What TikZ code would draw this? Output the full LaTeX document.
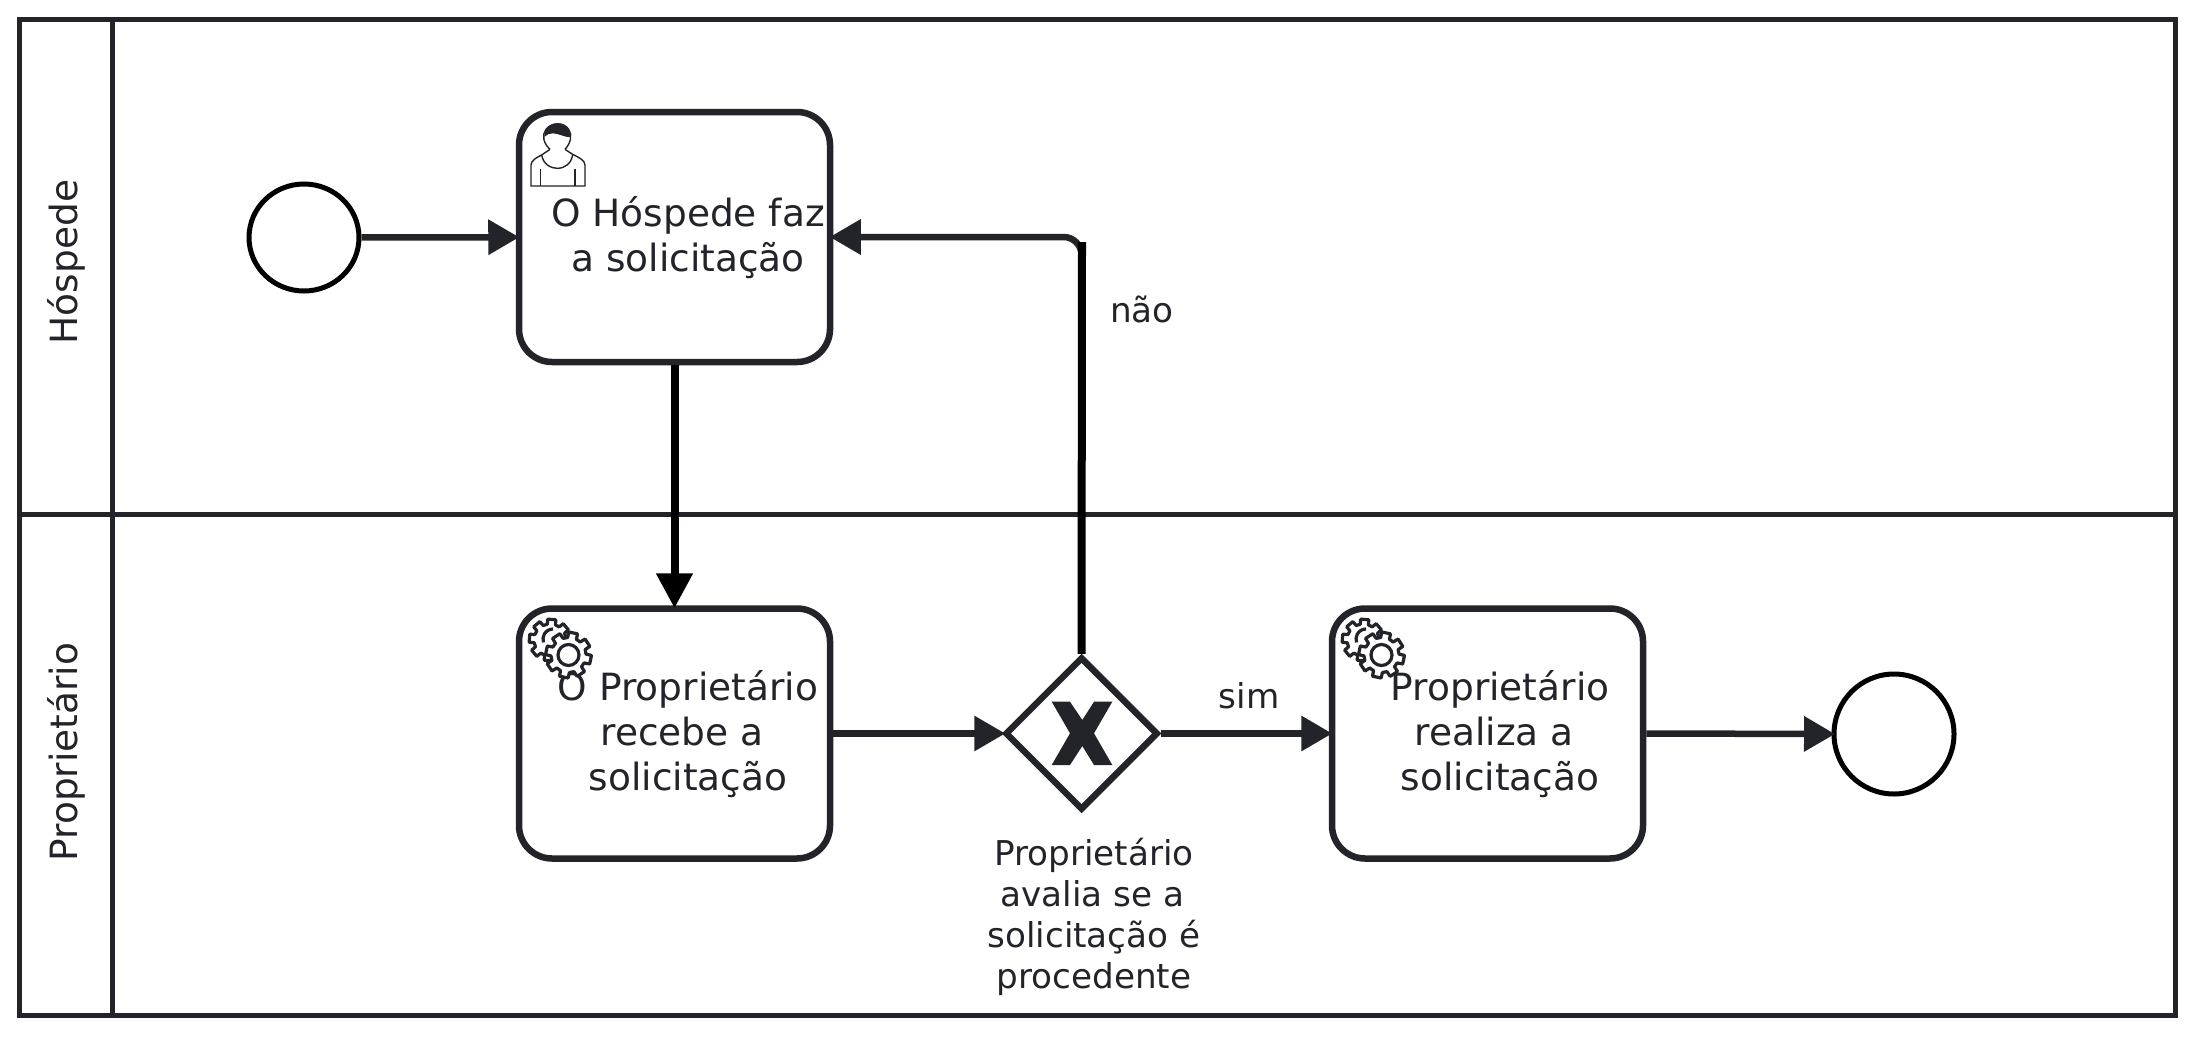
\documentclass[tikz,border=0pt]{standalone}
\usepackage{fontspec}
\setmainfont{DejaVu Sans}
\usetikzlibrary{arrows.meta,shapes.geometric}
\definecolor{ink}{HTML}{22242A}
\tikzset{
  task/.style={draw=ink,fill=white,line width=6.5pt,rounded corners=33pt,minimum width=311pt,minimum height=250pt,inner sep=0pt},
  gateway/.style={draw=ink,fill=white,line width=6.5pt,diamond,aspect=1,minimum width=153pt,minimum height=153pt,inner sep=0pt},
  evt/.style={draw=black,fill=white,line width=5pt,ellipse,inner sep=0pt},
  flow/.style={draw=ink,line width=6.5pt,shorten >=-3.5pt,-{Triangle[length=31pt,width=34pt]}},
  msgflow/.style={draw=black,line width=8pt},
  tasktext/.style={text=ink,font=\fontsize{37.5}{45}\selectfont,align=center,anchor=base,inner sep=0pt},
  labeltext/.style={text=ink,font=\fontsize{34.2}{41}\selectfont,align=center,anchor=base,inner sep=0pt},
  lanetext/.style={text=ink,font=\fontsize{37.5}{45}\selectfont,rotate=90,inner sep=0pt},
  laneline/.style={draw=ink,line width=5pt},
  gearline/.style={draw=ink,fill=white,line width=3.2pt,line join=round},
}
\newcommand{\geartoothed}[5]{%
  \draw[gearline,shift={(#1,#2)}] ({#5-11}:#3)
    \foreach \k in {0,...,7} { -- ({#5+\k*45-11}:#3) -- ({#5+\k*45+11}:#3) -- ({#5+\k*45+15}:#4) -- ({#5+\k*45+30}:#4) } -- cycle;}
\begin{document}
\begin{tikzpicture}[x=1pt,y=-1pt]
\useasboundingbox (0,0) rectangle (2194,1044);
\fill[white] (0,0) rectangle (2194,1044);
% pool
\draw[laneline] (19,19) rectangle (2175,1015);
\draw[laneline] (112,19) -- (112,1015);
\draw[laneline] (19,514) -- (2175,514);
\node[lanetext] (laneA) at (66,262) {Hóspede};
\node[lanetext] (laneB) at (66,752) {Proprietário};
% nodes
\node[evt,minimum width=110pt,minimum height=107pt] (start) at (304,237.5) {};
\node[task] (t1) at (674.5,237) {};
\node[task] (t2) at (674.5,733.5) {};
\node[task] (t3) at (1487.5,733.5) {};
\node[gateway] (gw) at (1081.5,733.5) {};
\node[evt,minimum width=120pt,minimum height=120pt] (end) at (1894,734) {};
% gateway marker
\fill[ink] (1051.7,701.7) -- (1070,701.7) -- (1082.3,720) -- (1094,701.7) -- (1112.3,701.7) -- (1094,733.3) -- (1112.3,765) -- (1094,765) -- (1082.3,746) -- (1070,765) -- (1051.7,765) -- (1070,733.3) -- cycle;
% connectors
\coordinate (bend) at (1082,242);
\draw[flow] (start) -- (t1);
\draw[flow,rounded corners=18pt] (gw.north) |- (t1.east);
\draw[msgflow] (gw.north) -- (bend);
\draw[msgflow,shorten >=-3pt,-{Triangle[length=35pt,width=35pt]}] (t1.south) -- (t2.north);
\draw[flow] (t2.east) -- (gw.west);
\draw[flow] (gw.east) -- (t3.west);
\draw[flow] (t3.east) -- (end.west);
% texts
\node[tasktext] (tx1) at (688,271) {O Hóspede faz\\a solicitação};
\node[tasktext] (tx2) at (688,790) {O Proprietário\\recebe a\rule{12pt}{0pt}\\solicitação};
\node[tasktext] (tx3) at (1500,790) {Proprietário\\realiza a\rule{12pt}{0pt}\\solicitação};
\node[labeltext] (gwl) at (1094,988) {Proprietário\\avalia se a\rule{3pt}{0pt}\\solicitação é\\procedente};
\node[labeltext] (sim) at (1249,708) {sim};
\node[labeltext] (nao) at (1142,322) {não};
% user icon
\begin{scope}[shift={(500,100)},x=0.3333pt,y=-0.3333pt,line width=1.4pt,draw=ink]
  \fill[ink] (134,110) .. controls (132,80) and (155,70) .. (172,70) .. controls (195,70) and (213,85) .. (212,112) .. controls (195,112) and (180,102) .. (160,100) .. controls (150,99) and (140,103) .. (134,110) -- cycle;
  \draw[ink] (150,148) .. controls (130,130) and (125,105) .. (138,88) .. controls (155,66) and (192,66) .. (206,88) .. controls (218,105) and (212,130) .. (195,148);
  \draw[ink] (150,148) -- (125,165) .. controls (110,172) and (93,182) .. (93,195) -- (93,258) -- (255,258) -- (255,195) .. controls (255,180) and (235,172) .. (218,163) -- (195,148);
  \draw[ink] (125,165) .. controls (130,195) and (155,205) .. (172,205) .. controls (195,205) and (215,190) .. (218,163);
  \draw[ink] (122,208) -- (122,258);
  \draw[ink] (225,208) -- (225,258);
\end{scope}
% gears
\foreach \gx in {0,813}{
\begin{scope}[shift={(\gx,0)}]
  \geartoothed{550}{640}{21}{16}{5}
  \draw[ink,line width=3.2pt] (553,629) arc[start angle=-90,end angle=-200,radius=10];
  \geartoothed{568.5}{655}{23}{17.5}{12}
  \draw[ink,fill=white,line width=3.2pt] (568.5,655) circle[radius=10.5];
\end{scope}}
\end{tikzpicture}
\end{document}
